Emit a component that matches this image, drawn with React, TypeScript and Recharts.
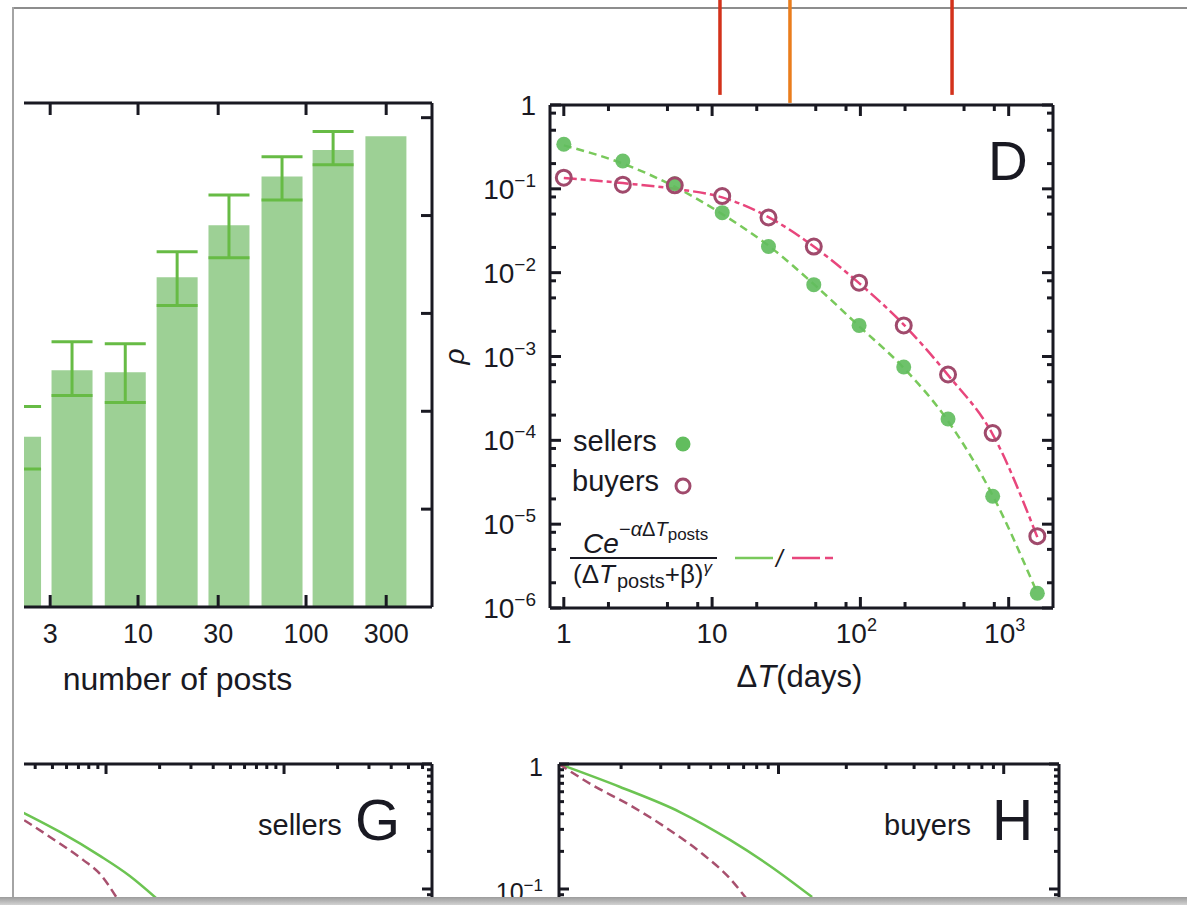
import React from 'react';
import {
  ComposedChart,
  Bar,
  ErrorBar,
  Scatter,
  Line,
  XAxis,
  YAxis,
  ReferenceLine,
  Label,
  Legend,
} from 'recharts';

// panel C (cut off on the left): share per bin of number of posts
const postBins = [2, 4.05, 8.4, 17.1, 34.8, 72, 145, 299];
const postShare = [0.174, 0.242, 0.24, 0.337, 0.39, 0.44, 0.467, 0.481];
const postErrLow = [0.033, 0.026, 0.031, 0.029, 0.033, 0.024, 0.015, null];
const postErrHigh = [0.031, 0.029, 0.029, 0.026, 0.031, 0.02, 0.019, null];
const postTicks = [3, 10, 30, 100, 300];
const shareTicks = [0.1, 0.2, 0.3, 0.4, 0.5];

// panel D: time between posts
const gapDays = [1, 2.5, 5.6, 11.7, 24, 48.5, 98, 196, 390, 780, 1560];
const sellerP = [0.34, 0.215, 0.115, 0.052, 0.0205, 0.0072, 0.00235, 0.00075, 0.00018, 2.15e-5, 1.5e-6];
const buyerP = [0.136, 0.112, 0.11, 0.082, 0.0455, 0.0205, 0.0076, 0.00235, 0.00061, 1.22e-4, 7.2e-6];
const sellerFit = [0.33, 0.2, 0.106, 0.05, 0.021, 0.0073, 0.0023, 0.00073, 0.00017, 2.2e-5, 1.5e-6];
const buyerFit = [0.135, 0.117, 0.1, 0.079, 0.046, 0.0205, 0.0075, 0.0024, 0.0006, 1.18e-4, 7e-6];
const dayTicks = [1, 10, 100, 1000];
const dayMinor = [2, 5, 8, 20, 50, 80, 200, 500, 800];
const pTicks = [1e-6, 1e-5, 1e-4, 1e-3, 1e-2, 1e-1, 1];
const pMinor = [
  2e-6, 5e-6, 8e-6, 2e-5, 5e-5, 8e-5, 2e-4, 5e-4, 8e-4,
  2e-3, 5e-3, 8e-3, 0.02, 0.05, 0.08, 0.2, 0.5, 0.8,
];

// markers hanging down from the panel above the crop
const markerDays = [11.3, 33.5, 415];
const markerEnd = [1.32, 1.06, 1.32];
const markerColors = ['#d3321b', '#ea7d1d', '#d3321b'];

// panels G and H: only their top strip is in the crop
const gSolidT = [2.54, 3.46, 5.51, 9.25, 13.6, 19.1];
const gSolidS = [0.506, 0.405, 0.286, 0.184, 0.127, 0.0847];
const gDashT = [2.54, 3.46, 4.84, 7.43, 9.25, 11.5];
const gDashS = [0.461, 0.356, 0.261, 0.171, 0.132, 0.0847];
const hSolidT = [1.06, 1.98, 3.65, 6.09, 9.17, 14.1];
const hSolidS = [1, 0.655, 0.413, 0.247, 0.153, 0.0863];
const hDashT = [1.06, 1.49, 2.18, 3.18, 4.66, 6.07, 7.17];
const hDashS = [1, 0.679, 0.47, 0.308, 0.187, 0.122, 0.0847];
const survTicksX = [10, 100];
const gMinorX = [2, 3, 4, 5, 6, 7, 8, 9, 20, 30, 40, 50, 60, 70, 80, 90, 200, 300, 400, 500, 600];
const hMinorX = [2, 3, 4, 5, 6, 7, 8, 9, 20, 30, 40, 50, 60, 70, 80, 90];
const survTicksY = [0.01, 0.1, 1];
const survMinorY = [0.02, 0.03, 0.04, 0.05, 0.06, 0.07, 0.08, 0.09, 0.2, 0.3, 0.4, 0.5, 0.6, 0.7, 0.8, 0.9];

const postDomain = [0.525, 562];
const shareDomain = [0, 0.515];
const dayDomain = [0.807, 1990];
const pDomain = [1e-6, 1];
const gDomain = [1.026, 678];
const hDomain = [1.06, 176];
const survDomain = [0.01, 1];

const INK = '#191922';
const FONT = '"Liberation Sans", Arial, Helvetica, sans-serif';
const frame = { stroke: INK, strokeWidth: 3 };
const tickStroke = { stroke: INK, strokeWidth: 3 };

const BAR = '#9dd095';
const BAR_ERR = '#67bb45';
const SELLER_DOT = '#62bd5e';
const SELLER_LINE = '#79c95b';
const BUYER_RING = '#a04a6c';
const BUYER_LINE = '#e8467c';
const CURVE_SOLID = '#6cc452';
const CURVE_DASH = '#a8506e';

const postRows = postBins.map((bin, i) => ({
  bin,
  share: postShare[i],
  err: postErrLow[i] == null ? null : [postErrLow[i], postErrHigh[i]],
}));
const sellerPts = gapDays.map((x, i) => ({ x, p: sellerP[i] }));
const buyerPts = gapDays.map((x, i) => ({ x, p: buyerP[i] }));
const sellerFitPts = gapDays.map((x, i) => ({ x, p: sellerFit[i] }));
const buyerFitPts = gapDays.map((x, i) => ({ x, p: buyerFit[i] }));
const toPts = (t: number[], s: number[]) => t.map((x, i) => ({ x, s: s[i] }));
const merge = (a: number[], b: number[]) => [...a, ...b].sort((u, v) => u - v);

const noTick = () => <g />;

// inward frame ticks: long for the majors, short for the minors
type Side = 'top' | 'bottom' | 'left' | 'right';
const frameTick = (side: Side, major: number[], long: number, short: number) => (props: any) => {
  const len = major.includes(props.payload.value) ? long : short;
  const { x, y } = props;
  const end =
    side === 'bottom' ? [x, y - len] : side === 'top' ? [x, y + len] : side === 'left' ? [x + len, y] : [x - len, y];
  return <line x1={x} y1={y} x2={end[0]} y2={end[1]} stroke={INK} strokeWidth={3} />;
};

const frameX = (id: string, side: 'top' | 'bottom', major: number[], minor: number[], domain: number[], line: boolean, long = 11, short = 6) => (
  <XAxis
    key={id}
    xAxisId={id}
    dataKey="x"
    orientation={side}
    mirror
    type="number"
    scale="log"
    domain={domain}
    allowDataOverflow
    ticks={merge(major, minor)}
    interval={0}
    tickSize={0}
    tickMargin={0}
    tickLine={false}
    tick={frameTick(side, major, long, short)}
    axisLine={line ? frame : false}
  />
);

const frameY = (id: string, side: 'left' | 'right', major: number[], minor: number[], domain: number[], line: boolean, long = 11, short = 6) => (
  <YAxis
    key={id}
    yAxisId={id}
    orientation={side}
    mirror
    type="number"
    scale="log"
    domain={domain}
    allowDataOverflow
    ticks={merge(major, minor)}
    interval={0}
    tickSize={0}
    tickMargin={0}
    tickLine={false}
    tick={frameTick(side, major, long, short)}
    axisLine={line ? frame : false}
  />
);

const powParts = (v: number): [string, string | null] => {
  const e = Math.round(Math.log10(v));
  if (e === 0) return ['1', null];
  if (e === 1) return ['10', null];
  return ['10', e < 0 ? `\u2212${-e}` : `${e}`];
};

const postTick = (props: any) => (
  <text x={props.x} y={props.y + 36} textAnchor="middle" fontSize={27} fill={INK} fontFamily={FONT}>
    {props.payload.value}
  </text>
);

const dayTick = (props: any) => {
  const [base, sup] = powParts(props.payload.value);
  return (
    <text x={props.x - (sup ? 4 : 0)} y={props.y + 35} textAnchor="middle" fontSize={28} fill={INK} fontFamily={FONT}>
      {base}
      {sup && <tspan dy={-12} fontSize={18}>{sup}</tspan>}
    </text>
  );
};

const pTick = (props: any) => {
  const [base, sup] = powParts(props.payload.value);
  return (
    <text x={props.x - 14} y={props.y + 10} textAnchor="end" fontSize={28} fill={INK} fontFamily={FONT}>
      {base}
      {sup && <tspan dy={-12} fontSize={19}>{sup}</tspan>}
    </text>
  );
};

const survTick = (props: any) => {
  const [base, sup] = powParts(props.payload.value);
  return (
    <text x={props.x - 16} y={props.y + 12} textAnchor="end" fontSize={25} fill={INK} fontFamily={FONT}>
      {base}
      {sup && <tspan dy={-10} fontSize={17}>{sup}</tspan>}
    </text>
  );
};

const postsLabel = (props: any) => {
  const vb = props.viewBox;
  return (
    <text x={vb.x + vb.width / 2} y={vb.y + 83} textAnchor="middle" fontSize={32} fill={INK} fontFamily={FONT}>
      number of posts
    </text>
  );
};

const daysLabel = (props: any) => {
  const vb = props.viewBox;
  return (
    <text x={vb.x + vb.width / 2 - 2} y={vb.y + 79} textAnchor="middle" fontSize={31} fill={INK} fontFamily={FONT}>
      Δ<tspan fontStyle="italic">T</tspan>(days)
    </text>
  );
};

const rhoLabel = (props: any) => {
  const vb = props.viewBox;
  const cy = vb.y + vb.height / 2;
  return (
    <text x={14} y={cy} transform={`rotate(-90 14 ${cy})`} textAnchor="middle" dominantBaseline="central" fontSize={28} fontStyle="italic" fill={INK} fontFamily={FONT}>
      ρ
    </text>
  );
};

const sellerDot = (props: any) => <circle cx={props.cx} cy={props.cy} r={7.5} fill={SELLER_DOT} fillOpacity={0.92} />;
const buyerRing = (props: any) => <circle cx={props.cx} cy={props.cy} r={7.5} fill="none" stroke={BUYER_RING} strokeWidth={3} />;

const dLegend = () => (
  <svg width={300} height={175} style={{ display: 'block', overflow: 'visible', fontFamily: FONT }}>
    <text x={8} y={26} fontSize={29} fill={INK}>sellers</text>
    <circle cx={118} cy={19} r={7.5} fill={SELLER_DOT} />
    <text x={7} y={66} fontSize={29} fill={INK}>buyers</text>
    <circle cx={118} cy={61} r={7} fill="none" stroke={BUYER_RING} strokeWidth={3} />
    <text x={18} y={128} fontSize={28} fill={INK} fontStyle="italic">Ce</text>
    <text x={54} y={111} fontSize={20} fill={INK}>
      −<tspan fontStyle="italic">α</tspan>Δ<tspan fontStyle="italic">T</tspan>
      <tspan fontSize={17} dy={4}>posts</tspan>
    </text>
    <line x1={5} x2={152} y1={133} y2={133} stroke={INK} strokeWidth={2} />
    <text x={8} y={158} fontSize={26} fill={INK}>
      (Δ<tspan fontStyle="italic">T</tspan>
      <tspan fontSize={20} dy={5} dx={2}>posts</tspan>
      <tspan dy={-5}>+β)</tspan>
      <tspan fontSize={17} dy={-10} fontStyle="italic">γ</tspan>
    </text>
    <line x1={170} x2={208} y1={133} y2={133} stroke={SELLER_LINE} strokeWidth={2.5} />
    <text x={211} y={142} fontSize={24} fill={INK} fontStyle="italic">/</text>
    <line x1={227} x2={272} y1={133} y2={133} stroke={BUYER_LINE} strokeWidth={2.5} strokeDasharray="28 5 8 60" />
  </svg>
);

function PostsChart() {
  return (
    <ComposedChart width={547} height={720} data={postRows} margin={{ top: 103, right: 28, bottom: 73, left: 10 }}>
      <XAxis
        xAxisId="n"
        dataKey="bin"
        type="number"
        scale="log"
        domain={postDomain}
        allowDataOverflow
        ticks={postTicks}
        interval={0}
        height={40}
        tickSize={0}
        tickMargin={0}
        tickLine={false}
        axisLine={frame}
        tick={postTick}
      >
        <Label content={postsLabel} />
      </XAxis>
      <YAxis
        yAxisId="s"
        type="number"
        domain={shareDomain}
        allowDataOverflow
        ticks={shareTicks}
        interval={0}
        mirror
        tick={noTick}
        tickSize={11}
        tickLine={tickStroke}
        axisLine={frame}
      />
      <Bar xAxisId="n" yAxisId="s" dataKey="share" fill={BAR} barSize={41} isAnimationActive={false}>
        <ErrorBar dataKey="err" direction="y" width={20.5} stroke={BAR_ERR} strokeWidth={3} isAnimationActive={false} />
      </Bar>
      <XAxis
        xAxisId="nb"
        dataKey="bin"
        orientation="bottom"
        mirror
        type="number"
        scale="log"
        domain={postDomain}
        allowDataOverflow
        ticks={postTicks}
        interval={0}
        tick={noTick}
        tickSize={12}
        tickLine={tickStroke}
        axisLine={false}
      />
      <XAxis
        xAxisId="nt"
        dataKey="bin"
        orientation="top"
        mirror
        type="number"
        scale="log"
        domain={postDomain}
        allowDataOverflow
        ticks={postTicks}
        interval={0}
        tick={noTick}
        tickSize={12}
        tickLine={tickStroke}
        axisLine={frame}
      />
      <YAxis
        yAxisId="sr"
        orientation="right"
        mirror
        type="number"
        domain={shareDomain}
        allowDataOverflow
        ticks={shareTicks}
        interval={0}
        tick={noTick}
        tickSize={11}
        tickLine={tickStroke}
        axisLine={frame}
      />
    </ComposedChart>
  );
}

function GapChart() {
  return (
    <ComposedChart width={640} height={720} margin={{ top: 105, right: 27, bottom: 72, left: 0 }}>
      <XAxis
        xAxisId="d"
        dataKey="x"
        type="number"
        scale="log"
        domain={dayDomain}
        allowDataOverflow
        ticks={dayTicks}
        interval={0}
        height={40}
        tickSize={0}
        tickMargin={0}
        tickLine={false}
        axisLine={frame}
        tick={dayTick}
      >
        <Label content={daysLabel} />
      </XAxis>
      <YAxis
        yAxisId="p"
        type="number"
        scale="log"
        domain={pDomain}
        allowDataOverflow
        ticks={pTicks}
        interval={0}
        width={110}
        tickSize={0}
        tickMargin={0}
        tickLine={false}
        axisLine={frame}
        tick={pTick}
      >
        <Label content={rhoLabel} />
      </YAxis>
      {frameX('db', 'bottom', dayTicks, dayMinor, dayDomain, false)}
      {frameX('dt', 'top', dayTicks, dayMinor, dayDomain, true)}
      {frameY('pl', 'left', pTicks, pMinor, pDomain, false)}
      {frameY('pr', 'right', pTicks, pMinor, pDomain, true)}
      {markerDays.map((d, i) => (
        <ReferenceLine
          key={d}
          xAxisId="d"
          yAxisId="p"
          segment={[{ x: d, y: markerEnd[i] }, { x: d, y: 40 }]}
          stroke={markerColors[i]}
          strokeWidth={3.5}
          ifOverflow="visible"
        />
      ))}
      <Line xAxisId="d" yAxisId="p" data={sellerFitPts} dataKey="p" type="monotone" stroke={SELLER_LINE} strokeWidth={2.5} strokeDasharray="8 5" dot={false} activeDot={false} isAnimationActive={false} />
      <Line xAxisId="d" yAxisId="p" data={buyerFitPts} dataKey="p" type="monotone" stroke={BUYER_LINE} strokeWidth={2.5} strokeDasharray="13 4 5 4" dot={false} activeDot={false} isAnimationActive={false} />
      <Scatter xAxisId="d" yAxisId="p" data={sellerPts} dataKey="p" shape={sellerDot} isAnimationActive={false} />
      <Scatter xAxisId="d" yAxisId="p" data={buyerPts} dataKey="p" shape={buyerRing} isAnimationActive={false} />
      <Legend
        content={dLegend}
        layout="horizontal"
        verticalAlign="middle"
        align="center"
        wrapperStyle={{ left: 125, top: 425, width: 300, height: 175 }}
      />
    </ComposedChart>
  );
}

interface SurvivalProps {
  width: number;
  margin: { top: number; right: number; bottom: number; left: number };
  labelWidth?: number;
  xDomain: number[];
  xMinor: number[];
  solid: { x: number; s: number }[];
  dashed: { x: number; s: number }[];
}

function SurvivalChart({ width, margin, labelWidth, xDomain, xMinor, solid, dashed }: SurvivalProps) {
  return (
    <ComposedChart width={width} height={294} margin={margin}>
      <XAxis
        xAxisId="x"
        dataKey="x"
        orientation="top"
        mirror
        type="number"
        scale="log"
        domain={xDomain}
        allowDataOverflow
        ticks={merge(survTicksX, xMinor)}
        interval={0}
        tickSize={0}
        tickMargin={0}
        tickLine={false}
        tick={frameTick('top', survTicksX, 10, 5)}
        axisLine={frame}
      />
      {frameX('xb', 'bottom', survTicksX, xMinor, xDomain, true, 10, 5)}
      {labelWidth ? (
        <YAxis
          yAxisId="y"
          type="number"
          scale="log"
          domain={survDomain}
          allowDataOverflow
          ticks={survTicksY}
          interval={0}
          width={labelWidth}
          tickSize={0}
          tickMargin={0}
          tickLine={false}
          axisLine={frame}
          tick={survTick}
        />
      ) : (
        <YAxis
          yAxisId="y"
          mirror
          type="number"
          scale="log"
          domain={survDomain}
          allowDataOverflow
          ticks={survTicksY}
          interval={0}
          tick={noTick}
          tickSize={0}
          tickLine={false}
          axisLine={frame}
        />
      )}
      {frameY('yl', 'left', survTicksY, survMinorY, survDomain, false, 10, 5)}
      {frameY('yr', 'right', survTicksY, survMinorY, survDomain, true, 10, 5)}
      <Line xAxisId="x" yAxisId="y" data={solid} dataKey="s" type="monotone" stroke={CURVE_SOLID} strokeWidth={2.5} dot={false} activeDot={false} isAnimationActive={false} />
      <Line xAxisId="x" yAxisId="y" data={dashed} dataKey="s" type="monotone" stroke={CURVE_DASH} strokeWidth={2.5} strokeDasharray="9 5" dot={false} activeDot={false} isAnimationActive={false} />
    </ComposedChart>
  );
}

function PanelText() {
  return (
    <svg width={1187} height={897} style={{ position: 'absolute', left: -24, top: 0, pointerEvents: 'none', fontFamily: FONT }}>
      <text x={988} y={180} fontSize={55} fill={INK}>D</text>
      <text x={258} y={835} fontSize={29} fill={INK}>sellers</text>
      <text x={355} y={840} fontSize={58} fill={INK}>G</text>
      <text x={884} y={835} fontSize={29} fill={INK}>buyers</text>
      <text x={992} y={840} fontSize={57} fill={INK}>H</text>
    </svg>
  );
}

export default function App() {
  return (
    <div style={{ position: 'absolute', left: 0, top: 0, width: 1187, height: 905, overflow: 'hidden', background: '#fff', fontFamily: FONT }}>
      <div style={{ position: 'absolute', left: 12, top: 7, width: 1175, height: 2, background: '#8d8d8d' }} />
      <div style={{ position: 'absolute', left: 12, top: 7, width: 2, height: 890, background: '#a4a4a4' }} />
      <div style={{ position: 'absolute', left: 0, top: 897, width: 1187, height: 8, background: 'linear-gradient(#9c9c9c, #d2d2d2)' }} />
      <div style={{ position: 'absolute', left: 24, top: 0, width: 1163, height: 897, overflow: 'hidden' }}>
        <div style={{ position: 'absolute', left: -111, top: 0 }}>
          <PostsChart />
        </div>
        <div style={{ position: 'absolute', left: 416, top: 0 }}>
          <GapChart />
        </div>
        <div style={{ position: 'absolute', left: -114, top: 740 }}>
          <SurvivalChart
            width={550}
            margin={{ top: 24, right: 28, bottom: 20, left: 20 }}
            xDomain={gDomain}
            xMinor={gMinorX}
            solid={toPts(gSolidT, gSolidS)}
            dashed={toPts(gDashT, gDashS)}
          />
        </div>
        <div style={{ position: 'absolute', left: 416, top: 740 }}>
          <SurvivalChart
            width={640}
            margin={{ top: 24, right: 21, bottom: 20, left: 0 }}
            labelWidth={119}
            xDomain={hDomain}
            xMinor={hMinorX}
            solid={toPts(hSolidT, hSolidS)}
            dashed={toPts(hDashT, hDashS)}
          />
        </div>
        <PanelText />
      </div>
    </div>
  );
}
